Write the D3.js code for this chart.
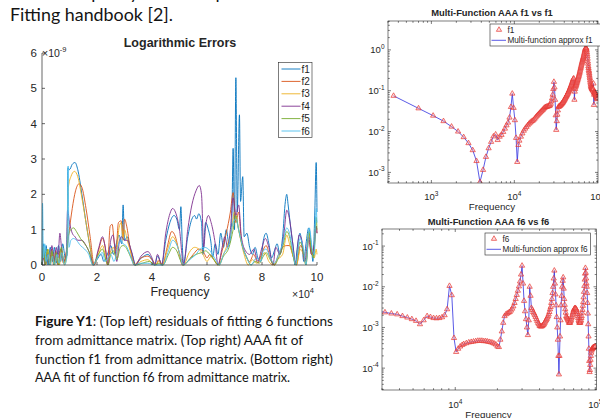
<!DOCTYPE html>
<html>
<head>
<meta charset="utf-8">
<script src="https://cdn.jsdelivr.net/npm/d3@7"></script>
<style>
html, body { margin: 0; padding: 0; background: #fff; }
svg { display: block; font-family: "Liberation Sans", Arial, sans-serif; }
.doc { font-family: Lato, "Open Sans", sans-serif; fill: #141414; }
.ax { fill: #262626; }
</style>
</head>
<body>
<svg id="fig" width="600" height="418"></svg>
<script>
// ---- left panel: logarithmic errors, x in 1e4 Hz, y in 1e-9 ----
const errXTicks = [0, 2, 4, 6, 8, 10]
const errYTicks = [0, 1, 2, 3, 4, 5, 6]
const errNames = ["f1", "f2", "f3", "f4", "f5", "f6"]
const errColors = ["#0072BD", "#D95319", "#EDB120", "#7E2F8E", "#77AC30", "#4DBEEE"]

const errF1 = [[0.02,0],[0.05,0.6],[0.1,0.1],[0.15,0.55],[0.22,0],[0.3,0.5],[0.38,0.1],[0.45,0.5],[0.52,0.05],[0.6,0.55],[0.68,0.1],[0.75,0.6],[0.85,0.2],[0.92,0.3],[0.94,2.75],[1.0,2.7],[1.1,2.85],[1.2,2.9],[1.3,2.7],[1.45,2.0],[1.6,1.2],[1.75,0.5],[1.88,0],
  [2.0,0.15],[2.15,0.3],[2.25,0.1],[2.4,0.35],[2.5,0.55],[2.6,0.3],[2.7,0.6],[2.8,0.85],[2.9,0.6],[2.95,1.7],[3.0,0.7],[3.1,0.8],[3.2,0.5],[3.3,0.25],[3.4,0],[3.55,0.15],[3.7,0.25],[3.85,0.3],[4.0,0.15],[4.1,0],[4.2,0.25],[4.3,0.1],[4.35,0],
  [4.5,0.7],[4.65,1.2],[4.8,1.4],[4.9,1.3],[5.0,1.0],[5.05,1.65],[5.1,0.6],[5.15,0.05],[5.3,0.8],[5.45,1.3],[5.55,1.4],[5.62,1.3],[5.7,1.45],[5.8,1.2],[5.85,0.3],[5.95,1.2],[6.05,1.0],[6.15,0.6],[6.2,0.2],[6.3,0.6],[6.4,0.3],[6.5,0.9],[6.6,0.5],[6.7,1.0],[6.8,0.6],[6.9,1.2],
  [6.95,3.3],[7.0,1.0],[7.05,5.3],[7.1,1.5],[7.18,4.25],[7.22,1.8],[7.3,2.5],[7.35,0.8],[7.45,0.9],[7.55,0.5],[7.65,0.3],[7.75,0.5],[7.85,0.2],[7.95,0.1],[8.05,0.7],[8.15,0.9],[8.25,0.6],[8.35,0.2],[8.45,0.4],[8.55,0.6],[8.65,0.3],[8.75,0.8],[8.85,1.8],[8.9,2.0],[8.95,1.7],
  [9.05,1.0],[9.15,0.4],[9.2,0],[9.3,0.6],[9.38,0.9],[9.45,0.6],[9.52,0.1],[9.6,0.6],[9.7,1.05],[9.8,0.5],[9.85,0.1],[9.92,1.5],[9.97,2.9],[10.0,1.5]]
const errF2 = [[0,0],[0.05,0.3],[0.12,0],[0.2,0.35],[0.28,0],[0.35,0.45],[0.42,0],[0.5,0.4],[0.58,0],[0.68,0.45],[0.78,0.05],[0.86,0.3],[0.92,0.5],[0.98,0.9],[1.1,1.6],[1.22,2.1],[1.35,2.3],[1.45,2.2],[1.6,1.6],[1.75,0.8],[1.9,0],
  [2.05,0.4],[2.2,0.75],[2.3,0.5],[2.38,0],[2.48,1.1],[2.55,1.15],[2.62,0.7],[2.68,0.3],[2.78,1.2],[2.88,1.25],[2.95,0.8],[3.0,1.3],[3.08,1.1],[3.2,0.5],[3.35,0],[3.6,0.2],[3.85,0.25],[4.05,0.1],[4.15,0],[4.25,0.15],[4.38,0],
  [4.55,0.5],[4.72,0.95],[4.85,0.8],[5.0,0.3],[5.1,0],[5.3,0.1],[5.5,0.3],[5.7,0.45],[5.85,0.4],[6.0,0.2],[6.1,0.3],[6.25,0.15],[6.4,0],[6.55,0.4],[6.7,0.9],[6.85,1.5],[6.95,2.05],[7.05,1.2],[7.15,1.5],[7.25,0.7],[7.4,0.3],[7.55,0.1],[7.7,0.3],[7.85,0.05],
  [8.0,0.35],[8.15,0.55],[8.3,0.2],[8.45,0],[8.6,0.3],[8.75,0.5],[8.9,0.55],[9.0,0.55],[9.15,0.2],[9.25,0],[9.4,0.55],[9.5,0.4],[9.6,0.1],[9.7,0.7],[9.8,0.3],[9.9,0.5],[9.97,1.1],[10.0,0.9]]
const errF3 = [[0,0],[0.06,0.25],[0.14,0],[0.22,0.45],[0.3,0],[0.38,0.35],[0.46,0],[0.55,0.3],[0.63,0],[0.72,0.4],[0.82,0],[0.9,0.3],[0.96,2.2],[1.05,2.5],[1.18,2.65],[1.3,2.5],[1.45,1.9],[1.6,1.2],[1.75,0.5],[1.88,0],
  [2.05,0.3],[2.2,0.55],[2.32,0.2],[2.4,0],[2.5,0.4],[2.6,0.5],[2.7,0.2],[2.8,1.05],[2.88,1.2],[2.95,0.7],[3.0,1.0],[3.1,0.7],[3.25,0.3],[3.38,0],[3.6,0.1],[3.85,0.15],[4.1,0],[4.25,0.1],[4.38,0],
  [4.55,0.4],[4.75,0.8],[4.9,0.6],[5.05,0.2],[5.15,0],[5.35,0.35],[5.55,0.5],[5.7,0.45],[5.85,0.3],[6.0,0.1],[6.15,0.25],[6.3,0.1],[6.45,0],[6.6,0.3],[6.75,0.6],[6.9,1.0],[7.0,1.5],[7.1,1.2],[7.2,0.8],[7.35,0.3],[7.5,0],
  [7.65,0.15],[7.8,0.05],[7.95,0.2],[8.1,0.35],[8.25,0.1],[8.4,0],[8.55,0.15],[8.75,0.3],[8.9,0.85],[9.0,0.6],[9.15,0.2],[9.25,0],[9.4,0.45],[9.5,0.3],[9.6,0],[9.7,0.9],[9.8,0.4],[9.9,0.2],[9.97,0.45],[10,0.3]]
const errF4 = [[0,0],[0.05,0.2],[0.12,0],[0.2,0.3],[0.28,0.05],[0.36,0.55],[0.44,0.1],[0.52,0.5],[0.58,0.2],[0.65,0.9],[0.72,0.4],[0.8,0.1],[0.88,0.3],[0.93,1.55],[1.0,1.2],[1.1,0.9],[1.2,0.8],[1.3,0.7],[1.45,0.7],[1.6,0.55],[1.75,0.3],[1.88,0],
  [2.05,0.45],[2.2,0.8],[2.32,0.4],[2.4,0],[2.5,0.7],[2.58,0.85],[2.65,0.5],[2.72,0.1],[2.82,0.7],[2.9,0.8],[3.0,0.7],[3.1,0.7],[3.25,0.4],[3.4,0],[3.6,0.25],[3.85,0.38],[4.0,0.2],[4.1,0],[4.2,0.3],[4.35,0],
  [4.5,0.9],[4.65,1.45],[4.75,1.6],[4.85,1.5],[5.0,1.0],[5.15,0],[5.3,1.0],[5.45,1.7],[5.6,2.1],[5.72,2.25],[5.8,2.0],[5.88,0.5],[5.95,1.1],[6.05,1.4],[6.15,1.2],[6.3,0.6],[6.4,0],[6.55,0.5],[6.65,0.8],[6.75,0.5],[6.85,1.0],[6.95,1.9],[7.05,1.4],[7.15,1.7],[7.25,0.8],
  [7.4,0.4],[7.55,0.3],[7.7,0.45],[7.85,0.1],[8.0,0.5],[8.12,0.75],[8.25,0.5],[8.4,0],[8.5,0.5],[8.65,0.3],[8.8,0.9],[8.9,1.55],[9.0,1.3],[9.12,0.6],[9.22,0],[9.35,0.85],[9.45,0.7],[9.55,0.1],[9.7,0.8],[9.8,0.3],[9.9,0.6],[9.97,1.1],[10,0.9]]
const errF5 = [[0,0],[0.05,0.5],[0.12,0],[0.2,0.45],[0.28,0],[0.36,0.4],[0.44,0],[0.52,0.35],[0.6,0],[0.7,0.5],[0.8,0.05],[0.88,0.25],[0.95,0.8],[1.05,1.0],[1.15,1.05],[1.25,0.95],[1.4,0.75],[1.55,0.6],[1.7,0.4],[1.85,0],
  [2.05,0.3],[2.2,0.45],[2.3,0.2],[2.4,0],[2.5,0.3],[2.6,0.4],[2.72,0.15],[2.85,0.5],[2.95,0.55],[3.05,0.5],[3.15,0.35],[3.3,0.1],[3.4,0],[3.65,0.05],[3.9,0.1],[4.1,0],[4.25,0.05],[4.4,0],
  [4.6,0.3],[4.75,0.5],[4.9,0.4],[5.05,0.1],[5.15,0],[5.4,0.2],[5.6,0.3],[5.8,0.35],[5.95,0.4],[6.1,0.3],[6.25,0.15],[6.4,0],[6.6,0.25],[6.8,0.5],[6.95,1.0],[7.05,1.4],[7.15,1.0],[7.3,0.5],[7.45,0.2],[7.6,0],
  [7.75,0.1],[7.9,0.05],[8.05,0.25],[8.15,0.35],[8.3,0.15],[8.45,0],[8.6,0.2],[8.75,0.5],[8.9,0.95],[9.0,0.8],[9.12,0.3],[9.22,0],[9.38,0.65],[9.5,0.4],[9.6,0],[9.7,0.95],[9.8,0.4],[9.88,0.2],[9.97,1.35],[10,1.0]]
const errF6 = [[0,0],[0.02,1.75],[0.05,0.2],[0.1,0.6],[0.15,0.1],[0.22,0.3],[0.3,0],[0.38,0.25],[0.45,0],[0.55,0.3],[0.62,0.05],[0.72,0.35],[0.82,0],[0.9,0.2],[0.95,2.8],[0.98,0.5],[1.05,0.7],[1.15,0.75],[1.25,0.7],[1.4,0.55],[1.55,0.45],[1.7,0.3],[1.85,0],
  [2.05,0.25],[2.2,0.35],[2.3,0.1],[2.4,0.2],[2.5,0.3],[2.62,0.1],[2.75,0.5],[2.85,0.7],[2.95,0.6],[3.05,0.55],[3.2,0.3],[3.35,0],[3.6,0.05],[3.85,0.05],[4.1,0],[4.4,0],
  [4.6,0.4],[4.75,0.7],[4.88,0.6],[5.02,0.3],[5.12,0],[5.3,0.1],[5.45,0.2],[5.6,0.3],[5.75,0.45],[5.9,0.5],[6.05,0.45],[6.2,0.3],[6.35,0.1],[6.45,0],[6.6,0.3],[6.8,0.6],[6.95,1.2],[7.05,1.3],[7.15,1.0],[7.3,0.5],[7.45,0.2],[7.6,0],
  [7.8,0.2],[7.95,0.1],[8.05,0.4],[8.15,0.45],[8.3,0.2],[8.45,0.05],[8.6,0.3],[8.75,0.6],[8.9,1.05],[9.0,0.9],[9.12,0.4],[9.22,0],[9.38,0.75],[9.5,0.5],[9.6,0],[9.72,1.05],[9.82,0.5],[9.9,0.3],[9.97,1.6],[10,1.2]]
const errSeries = [errF1, errF2, errF3, errF4, errF5, errF6]

// ---- right panels: sampled frequency grid (Hz) and magnitudes ----
const lowFreqs = d3.range(350, 11201, 350)
const highFreqs = d3.range(11500, 100001, 500)
const sampleFreqs = lowFreqs.concat(highFreqs)

const f1Values = [
  // 350 .. 11200 Hz
  0.075,0.037,0.0245,0.018,0.0132,0.0100,0.0073,0.0052,0.0035,0.0019,0.00058,0.00115,0.0024,0.0039,0.0056,0.0076,
  0.0085,0.0062,0.0075,0.0083,0.0098,0.0118,0.0142,0.0166,0.022,0.040,0.085,0.038,0.019,0.007,0.0018,0.0047,
  // 11500 .. 30000 Hz
  0.0060,0.0075,0.0090,0.0105,0.0118,0.013,0.0143,0.0155,0.0165,0.0175,0.0183,0.019,0.0205,0.022,0.0235,0.025,0.0265,0.028,0.0295,
  0.031,0.0325,0.034,0.036,0.038,0.039,0.040,0.0405,0.041,0.0415,0.042,0.043,0.044,0.048,0.055,0.065,0.080,0.11,0.165,
  // 30500 .. 100000 Hz
  0.120,0.060,0.025,0.011,0.018,0.026,0.033,0.040,0.041,0.042,
  0.043,0.044,0.0455,0.047,0.0485,0.050,0.052,0.054,0.0565,0.059,
  0.062,0.065,0.068,0.071,0.0745,0.078,0.0815,0.085,0.0895,0.094,
  0.099,0.104,0.110,0.116,0.123,0.130,0.137,0.145,0.155,0.165,
  0.175,0.185,0.195,0.200,0.120,0.060,0.095,0.110,0.120,0.130,
  0.137,0.145,0.155,0.165,0.175,0.185,0.197,0.210,0.222,0.235,
  0.252,0.270,0.290,0.310,0.335,0.360,0.385,0.410,0.440,0.470,
  0.500,0.530,0.565,0.600,0.635,0.670,0.715,0.760,0.810,0.860,
  0.915,0.970,1.020,1.070,1.100,1.120,1.100,1.050,0.970,0.880,
  0.790,0.700,0.610,0.520,0.460,0.400,0.360,0.320,0.295,0.270,
  0.245,0.220,0.200,0.180,0.165,0.150,0.140,0.130,0.125,0.120,
  0.117,0.115,0.112,0.110,0.107,0.105,0.102,0.100,0.110,0.150,
  0.090,0.045,0.080,0.095,0.092,0.090,0.088,0.087,0.085,0.083,
  0.080,0.078,0.076,0.074,0.072,0.070,0.068,0.066,0.064,0.062]
const f6Freqs = sampleFreqs.slice(7)
const f6Values = [
  // 2800 .. 11200 Hz
  0.0025,0.00235,0.0022,0.0021,0.0019,0.00175,0.0016,0.00145,0.0012,0.0015,0.0019,0.0018,0.0017,0.00168,0.0017,
  0.00178,0.0020,0.0028,0.0105,0.0062,0.00055,0.00025,0.00030,0.00034,0.00037,
  // 11500 .. 30000 Hz
  0.00039,0.00041,0.00043,0.00044,0.00045,0.00046,0.00047,0.00047,0.00047,0.00046,0.00046,0.00045,0.00044,0.00043,0.00042,
  0.00040,0.00038,0.00034,0.00033,0.00050,0.0008,0.0013,0.0019,0.0021,0.0022,0.0023,0.0024,0.0026,0.0029,0.0033,
  0.0040,0.0050,0.0063,0.0080,0.0102,0.0135,0.020,0.033,
  // 30500 .. 100000 Hz
  0.012,0.0045,0.0025,0.0016,0.0010,0.00065,0.0015,0.0100,0.0060,0.0030,
  0.0027,0.0024,0.0022,0.0020,0.0018,0.0016,0.00145,0.0013,0.0012,0.0011,
  0.00107,0.00105,0.00107,0.0011,0.00115,0.0012,0.0013,0.0014,0.0015,0.0016,
  0.00175,0.0019,0.0021,0.0024,0.0028,0.0032,0.0040,0.0050,0.0070,0.010,
  0.016,0.025,0.012,0.0065,0.0035,0.0018,0.0010,0.0005,0.0002,0.00007,
  0.0002,0.0006,0.0015,0.0035,0.0060,0.010,0.014,0.017,0.009,0.005,
  0.0036,0.0028,0.0023,0.0019,0.0018,0.0017,0.0016,0.0015,0.0014,0.0013,
  0.0013,0.0013,0.0014,0.0015,0.00165,0.0018,0.0020,0.0022,0.0024,0.0026,
  0.00275,0.0029,0.00295,0.0030,0.0029,0.0028,0.0026,0.0024,0.00215,0.0019,
  0.0017,0.0015,0.0014,0.0013,0.0013,0.0013,0.0014,0.0015,0.0017,0.0019,
  0.0023,0.0027,0.0034,0.0042,0.0055,0.0075,0.0105,0.015,0.021,0.029,
  0.022,0.016,0.012,0.010,0.007,0.004,0.0022,0.0012,0.0006,0.0003,
  0.00015,0.00008,0.00009,0.00012,0.00016,0.0002,0.00024,0.00027,0.00029,0.0003,
  0.00031,0.00031,0.00032,0.00032,0.00033,0.00033,0.00033,0.00033,0.00034,0.00034]

const captionLines = [
  ":  (Top left) residuals of fitting 6 functions",
  "from admittance matrix. (Top right) AAA fit of",
  "function f1 from admittance matrix. (Bottom right)",
  "AAA fit of function f6 from admittance matrix."
]

const svg = d3.select("#fig")
const axisColor = "#262626"
const markerStroke = "#e53935"
const markerFill = "rgba(255,160,160,0.35)"
const fitBlue = "#3030e0"

// ---------- document text ----------
svg.append("text").attr("class", "doc").attr("x", 10).attr("y", -1)
  .style("font-size", "18px").text("in the sample by the example.")
svg.append("text").attr("class", "doc").attr("x", 10).attr("y", 21)
  .attr("textLength", 163).attr("lengthAdjust", "spacingAndGlyphs")
  .style("font-size", "18px").text("Fitting handbook [2].")

const captionY = [326, 345, 363.5, 382]
const captionW = [298, 268, 298, 255]
captionLines.forEach((line, i) => {
  const t = svg.append("text").attr("class", "doc").attr("x", 35).attr("y", captionY[i])
    .attr("textLength", captionW[i]).attr("lengthAdjust", "spacingAndGlyphs")
    .style("font-size", "13px")
  if (i == 0) t.append("tspan").style("font-weight", "bold").text("Figure Y1")
  t.append("tspan").text(line)
})

// ---------- left panel ----------
const errX = d3.scaleLinear().domain([0, 10]).range([42, 317])
const errY = d3.scaleLinear().domain([0, 6]).range([265, 53])
const errG = svg.append("g")

const errLine = d3.line().x(d => errX(d[0])).y(d => errY(d[1])).curve(d3.curveMonotoneX)
errSeries.forEach((s, i) => {
  errG.append("path").datum(s).attr("d", errLine)
    .attr("fill", "none").attr("stroke", errColors[i]).attr("stroke-width", 0.9)
})

errG.append("line").attr("x1", errX(0)).attr("x2", errX(0)).attr("y1", errY(0)).attr("y2", errY(6))
  .attr("stroke", axisColor).attr("stroke-width", 0.7)
errG.append("line").attr("x1", errX(0)).attr("x2", errX(10)).attr("y1", errY(0)).attr("y2", errY(0))
  .attr("stroke", axisColor).attr("stroke-width", 0.7)
errYTicks.forEach(v => {
  errG.append("line").attr("x1", errX(0)).attr("x2", errX(0) + 3).attr("y1", errY(v)).attr("y2", errY(v))
    .attr("stroke", axisColor).attr("stroke-width", 0.7)
  errG.append("text").attr("class", "ax").attr("x", 37).attr("y", errY(v) + 4)
    .attr("text-anchor", "end").style("font-size", "11.5px").text(v)
})
errXTicks.forEach(v => {
  errG.append("line").attr("x1", errX(v)).attr("x2", errX(v)).attr("y1", errY(0)).attr("y2", errY(0) - 3)
    .attr("stroke", axisColor).attr("stroke-width", 0.7)
  errG.append("text").attr("class", "ax").attr("x", errX(v)).attr("y", 281)
    .attr("text-anchor", "middle").style("font-size", "11.5px").text(v)
})
errG.append("text").attr("class", "ax").attr("x", 180).attr("y", 47).attr("text-anchor", "middle")
  .style("font-size", "12.5px").style("font-weight", "bold").text("Logarithmic Errors")
errG.append("text").attr("class", "ax").attr("x", 180).attr("y", 296).attr("text-anchor", "middle")
  .style("font-size", "12.5px").text("Frequency")

function multiplier(g, x, y, exp) {
  const t = g.append("text").attr("class", "ax").attr("x", x).attr("y", y).style("font-size", "10.5px")
  t.append("tspan").text("\u00d710")
  t.append("tspan").attr("dy", -5).style("font-size", "7.5px").text(exp)
}
multiplier(errG, 42, 57, "-9")
multiplier(errG, 292, 298, "4")

const errLegend = errG.append("g")
errLegend.append("rect").attr("x", 278.5).attr("y", 62.5).attr("width", 33.5).attr("height", 75)
  .attr("fill", "#fff").attr("stroke", axisColor).attr("stroke-width", 0.6)
errNames.forEach((name, i) => {
  const y = 69 + i * 12.4
  errLegend.append("line").attr("x1", 281.5).attr("x2", 300.5).attr("y1", y).attr("y2", y)
    .attr("stroke", errColors[i]).attr("stroke-width", 0.9)
  errLegend.append("text").attr("class", "ax").attr("x", 301.5).attr("y", y + 3.6)
    .style("font-size", "10px").text(name)
})

// ---------- right panels ----------
const triangle = d3.symbol().type(d3.symbolTriangle).size(12)

function supLabel(g, x, y, exp, anchor) {
  const t = g.append("text").attr("class", "ax").attr("x", x).attr("y", y)
    .attr("text-anchor", anchor).style("font-size", "9.5px")
  t.append("tspan").text("10")
  t.append("tspan").attr("dy", -4.5).style("font-size", "6.5px").text(exp)
}

function logTicks(scale) {
  const [lo, hi] = scale.domain()
  const major = [], minor = []
  for (let e = Math.floor(Math.log10(lo)); e <= Math.ceil(Math.log10(hi)); e++) {
    for (let m = 1; m < 10; m++) {
      const v = m * Math.pow(10, e)
      if (v < lo || v > hi) continue
      if (m == 1) major.push(e)
      else minor.push(v)
    }
  }
  return [major, minor]
}

function drawFitPanel(p) {
  const g = svg.append("g")
  const [x0, x1] = p.x.range()
  const [y0, y1] = p.y.range()
  svg.append("clipPath").attr("id", "clip-" + p.name).append("rect")
    .attr("x", x0).attr("y", y1).attr("width", x1 - x0).attr("height", y0 - y1)

  const pts = p.freqs.map((f, i) => [f, p.values[i]])
  const plot = g.append("g").attr("clip-path", `url(#clip-${p.name})`)
  plot.append("path").datum(pts)
    .attr("d", d3.line().x(d => p.x(d[0])).y(d => p.y(d[1])))
    .attr("fill", "none").attr("stroke", fitBlue).attr("stroke-width", 0.8)
  plot.selectAll(".mk").data(pts).enter().append("path")
    .attr("class", "mk")
    .attr("d", triangle)
    .attr("transform", d => `translate(${p.x(d[0])},${p.y(d[1])})`)
    .attr("fill", markerFill).attr("stroke", markerStroke).attr("stroke-width", 0.7)

  const tick = (xa, ya, xb, yb) => g.append("line").attr("x1", xa).attr("y1", ya).attr("x2", xb).attr("y2", yb)
    .attr("stroke", axisColor).attr("stroke-width", 0.6)
  const [xMajor, xMinor] = logTicks(p.x)
  const [yMajor, yMinor] = logTicks(p.y)
  xMinor.forEach(v => { tick(p.x(v), y0, p.x(v), y0 - 1.8); tick(p.x(v), y1, p.x(v), y1 + 1.8) })
  yMinor.forEach(v => { tick(x0, p.y(v), x0 + 1.8, p.y(v)); tick(x1, p.y(v), x1 - 1.8, p.y(v)) })
  xMajor.forEach(e => {
    const x = p.x(Math.pow(10, e))
    tick(x, y0, x, y0 - 3); tick(x, y1, x, y1 + 3)
    supLabel(g, x, p.xLabelY, e, "middle")
  })
  yMajor.forEach(e => {
    const y = p.y(Math.pow(10, e))
    tick(x0, y, x0 + 3, y); tick(x1, y, x1 - 3, y)
    supLabel(g, x0 - 3.5, y + 3.5, e, "end")
  })
  g.append("rect").attr("x", x0).attr("y", y1).attr("width", x1 - x0).attr("height", y0 - y1)
    .attr("fill", "none").attr("stroke", axisColor).attr("stroke-width", 0.6)

  g.append("text").attr("class", "ax").attr("x", p.titleX).attr("y", p.titleY).attr("text-anchor", "middle")
    .style("font-size", "9.4px").style("font-weight", "bold").text(p.title)
  g.append("text").attr("class", "ax").attr("x", p.titleX).attr("y", p.xTitleY).attr("text-anchor", "middle")
    .style("font-size", "9.8px").text("Frequency")

  const L = p.legend
  g.append("rect").attr("x", L.x).attr("y", L.y).attr("width", L.w).attr("height", 22)
    .attr("fill", "#fff").attr("stroke", axisColor).attr("stroke-width", 0.6)
  g.append("path").attr("d", triangle).attr("transform", `translate(${L.x + 9},${L.y + 5.8})`)
    .attr("fill", markerFill).attr("stroke", markerStroke).attr("stroke-width", 0.7)
  g.append("text").attr("class", "ax").attr("x", L.x + 17.5).attr("y", L.y + 8.6)
    .style("font-size", "8.2px").text(p.name)
  g.append("line").attr("x1", L.x + 1.5).attr("x2", L.x + 16).attr("y1", L.y + 16.3).attr("y2", L.y + 16.3)
    .attr("stroke", fitBlue).attr("stroke-width", 0.8)
  g.append("text").attr("class", "ax").attr("x", L.x + 17.5).attr("y", L.y + 19.2)
    .style("font-size", "8.2px").text("Multi-function approx " + p.name)
}

drawFitPanel({
  name: "f1",
  x: d3.scaleLog().domain([300, 102000]).range([388, 598]),
  y: d3.scaleLog().domain([5.5e-4, 5.1]).range([183, 21]),
  freqs: sampleFreqs, values: f1Values,
  title: "Multi-Function AAA f1 vs f1", titleX: 492, titleY: 16,
  xLabelY: 200, xTitleY: 210,
  legend: { x: 490, y: 24, w: 118 }
})
drawFitPanel({
  name: "f6",
  x: d3.scaleLog().domain([3000, 102000]).range([382, 596.5]),
  y: d3.scaleLog().domain([2.9e-5, 0.263]).range([390, 229]),
  freqs: f6Freqs, values: f6Values,
  title: "Multi-Function AAA f6 vs f6", titleX: 488.5, titleY: 224.5,
  xLabelY: 408, xTitleY: 417.5,
  legend: { x: 485, y: 233, w: 105.5 }
})
</script>
</body>
</html>
